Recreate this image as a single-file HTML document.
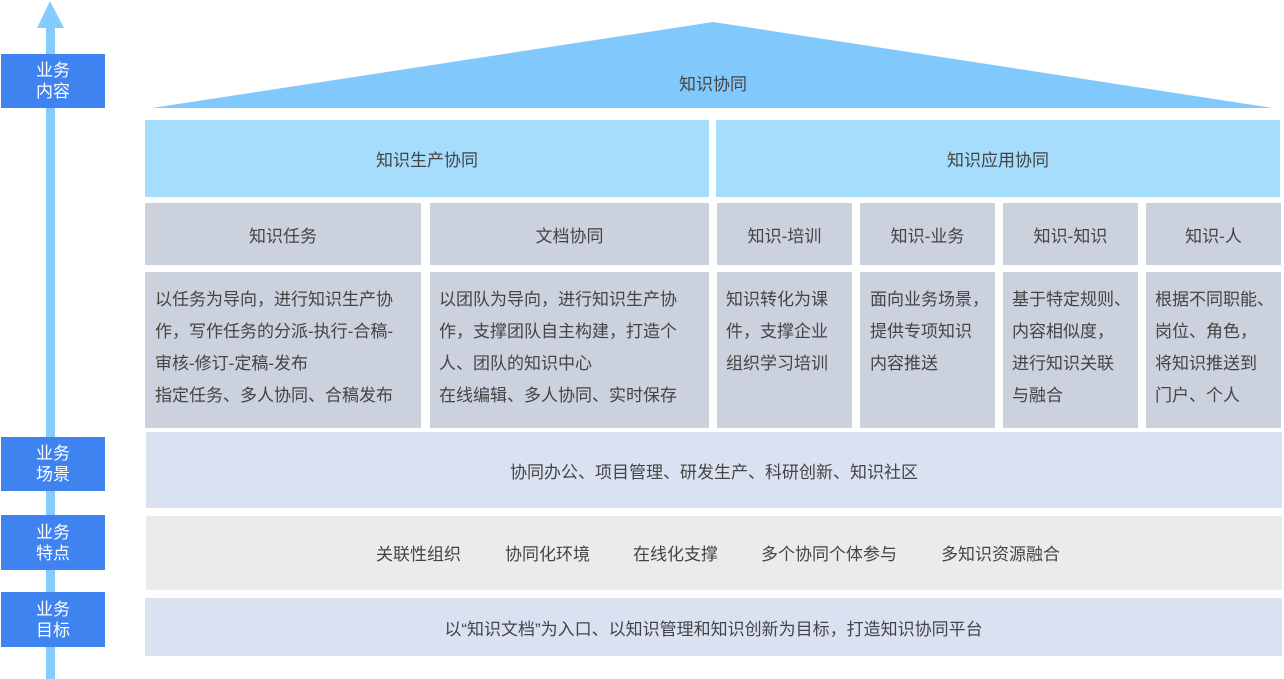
<!DOCTYPE html>
<html><head><meta charset="utf-8"><style>
body{margin:0;width:1284px;height:679px;background:#fff;position:relative;overflow:hidden;font-family:"Liberation Sans","Noto Sans CJK SC",sans-serif;color:#444;}
.a{position:absolute;box-sizing:border-box;}
.c{display:flex;align-items:center;justify-content:center;font-size:17px;}
.lab{background:#3f83f0;color:#fff;font-size:17px;line-height:21px;text-align:center;display:flex;align-items:center;justify-content:center;left:1px;width:104px;height:54px;}
.g{background:#cbd1dd;}
.d{font-size:17px;line-height:32px;padding:12px 0 0 10px;white-space:nowrap;}
</style></head><body>
<svg class="a" style="left:0;top:0" width="1284" height="679">
<rect x="46" y="26" width="9" height="653" fill="#86cbfd"/>
<polygon points="50,1 64,28 37,28" fill="#86cbfd"/>
<polygon points="152,108 713,22 1273,108" fill="#81c8fc"/>
</svg>
<div class="a c" style="left:600px;top:68px;width:226px;height:28px;">知识协同</div>
<div class="a lab" style="top:54px;">业务<br>内容</div>
<div class="a lab" style="top:437px;">业务<br>场景</div>
<div class="a lab" style="top:515px;height:55px;">业务<br>特点</div>
<div class="a lab" style="top:592px;height:55px;">业务<br>目标</div>

<div class="a c" style="left:145px;top:120px;width:564px;height:77px;background:#a6dcfc;">知识生产协同</div>
<div class="a c" style="left:716px;top:120px;width:564px;height:77px;background:#a6dcfc;">知识应用协同</div>

<div class="a c g" style="left:145px;top:203px;width:276px;height:62px;">知识任务</div>
<div class="a c g" style="left:430px;top:203px;width:279px;height:62px;">文档协同</div>
<div class="a c g" style="left:717px;top:203px;width:135px;height:62px;">知识-培训</div>
<div class="a c g" style="left:860px;top:203px;width:135px;height:62px;">知识-业务</div>
<div class="a c g" style="left:1003px;top:203px;width:135px;height:62px;">知识-知识</div>
<div class="a c g" style="left:1146px;top:203px;width:135px;height:62px;">知识-人</div>

<div class="a g d" style="left:145px;top:272px;width:276px;height:156px;">以任务为导向，进行知识生产协<br>作，写作任务的分派-执行-合稿-<br>审核-修订-定稿-发布<br>指定任务、多人协同、合稿发布</div>
<div class="a g d" style="left:430px;top:272px;width:279px;height:156px;padding-left:9px;">以团队为导向，进行知识生产协<br>作，支撑团队自主构建，打造个<br>人、团队的知识中心<br>在线编辑、多人协同、实时保存</div>
<div class="a g d" style="left:717px;top:272px;width:135px;height:156px;padding-left:9px;">知识转化为课<br>件，支撑企业<br>组织学习培训</div>
<div class="a g d" style="left:860px;top:272px;width:135px;height:156px;">面向业务场景，<br>提供专项知识<br>内容推送</div>
<div class="a g d" style="left:1003px;top:272px;width:135px;height:156px;padding-left:9px;">基于特定规则、<br>内容相似度，<br>进行知识关联<br>与融合</div>
<div class="a g d" style="left:1146px;top:272px;width:135px;height:156px;padding-left:9px;">根据不同职能、<br>岗位、角色，<br>将知识推送到<br>门户、个人</div>

<div class="a c" style="left:146px;top:432px;width:1136px;height:76px;background:#dae2f2;">协同办公、项目管理、研发生产、科研创新、知识社区</div>
<div class="a" style="left:146px;top:516px;width:1136px;height:74px;background:#ebebeb;font-size:17px;">
<span class="a" style="left:230px;top:24px;">关联性组织</span>
<span class="a" style="left:359px;top:24px;">协同化环境</span>
<span class="a" style="left:487px;top:24px;">在线化支撑</span>
<span class="a" style="left:615px;top:24px;">多个协同个体参与</span>
<span class="a" style="left:795px;top:24px;">多知识资源融合</span>
</div>
<div class="a c" style="left:145px;top:598px;width:1137px;height:58px;background:#dae2f2;">以“知识文档”为入口、以知识管理和知识创新为目标，打造知识协同平台</div>
</body></html>
